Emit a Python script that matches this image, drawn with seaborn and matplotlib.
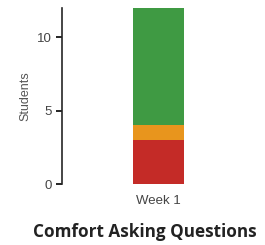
import pandas as pd
import seaborn as sns
import matplotlib.pyplot as plt

# data
weeks = ['Week 1']
levels = ['Not comfortable', 'Somewhat', 'Comfortable']
not_comfortable = [3]
somewhat = [1]
comfortable = [8]
colors = ['#c42b27', '#e8951d', '#3f9a43']

df = pd.DataFrame({'week': weeks,
                   'Not comfortable': not_comfortable,
                   'Somewhat': somewhat,
                   'Comfortable': comfortable})

# cumulative totals so bars can be drawn on top of each other
cum = df[levels].cumsum(axis=1)

sns.set_style('ticks')
plt.rcParams['font.family'] = ['Liberation Sans', 'DejaVu Sans']
fig = plt.figure(figsize=(2.65, 2.45), dpi=100)
ax = fig.add_axes([62 / 265, 1 - 184 / 245, 193 / 265, (184 - 7.6) / 245])

for lvl, col in reversed(list(zip(levels, colors))):
    sns.barplot(x=df['week'], y=cum[lvl], color=col, width=0.8,
                saturation=1, ax=ax, edgecolor='none')

ax.set_xlim(-1.5, 1.5)
ax.set_ylim(0, 12)
ax.set_yticks([0, 5, 10])
ax.set_xlabel('')
ax.set_ylabel('Students', fontsize=9, color='#555555', labelpad=4)
ax.tick_params(axis='y', length=4, width=1.2, colors='black', labelcolor='#444444',
               labelsize=9.5)
ax.tick_params(axis='x', length=0, labelcolor='#444444', labelsize=9.5, pad=8)
sns.despine(ax=ax, bottom=True)
ax.spines['left'].set_linewidth(1.2)

fig.text(145 / 265, 1 - 232 / 245, 'Comfort Asking Questions', ha='center', va='center',
         fontsize=12.3, fontweight='bold', family='Open Sans', color='#222222')

plt.savefig('out.png', dpi=100)
